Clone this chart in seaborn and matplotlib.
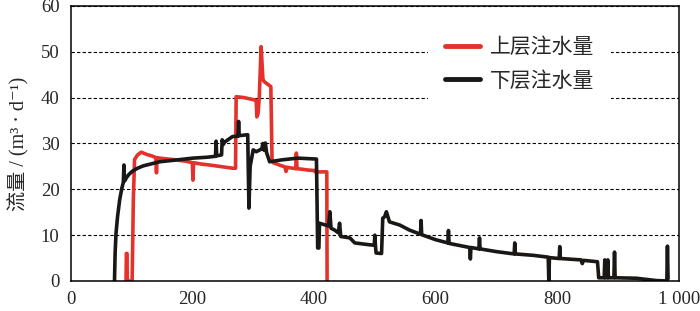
import pandas as pd
import seaborn as sns
import matplotlib.pyplot as plt

# upper layer injection (red)
red_day = [91, 91.5, 92.5, 93, 101, 103, 105, 110, 116, 125, 135, 140, 141, 142,
           146, 160, 174, 190, 200, 201, 202, 215, 228, 250, 266, 271,
           272, 285, 302, 305, 306, 308, 310, 313, 316, 318, 329,
           331, 333, 345, 352, 354, 356, 360, 370, 371, 372, 379, 390, 401, 402, 415, 421, 421.5]
red_val = [0, 6, 6, 0, 0, 18, 26.5, 27.5, 28.1, 27.6, 27.2, 26.9, 23.6, 26.9,
           26.8, 26.6, 26.4, 26.1, 25.8, 22, 25.8, 25.5, 25.3, 24.9, 24.6, 24.6,
           40.2, 40.0, 39.5, 39.3, 35.8, 36.5, 40, 51.1, 44, 43.5, 42.4,
           26.4, 25.8, 25.2, 24.9, 23.9, 24.8, 24.7, 24.5, 27.9, 24.5, 24.4, 24.2, 24.1, 23.8, 23.8, 23.8, 0]

# lower layer injection (black)
black_day = [72, 73, 74.5, 77, 80.5, 84, 86.5, 87.5, 88.5, 91.5, 96, 102, 110, 119,
             146, 174, 201, 225, 238, 239, 240, 248, 249, 251, 253, 266,
             275, 276, 277, 291, 293, 295, 300, 305, 314, 316, 318, 320, 322, 327,
             346, 373, 404, 406, 408, 409, 424, 426, 428, 434, 440, 442, 444,
             459, 467, 491, 499, 500, 501, 502, 511, 513, 516, 519, 524, 541, 557,
             575, 576, 577, 600, 620, 621, 622, 656, 657, 658, 671, 672, 673,
             700, 729, 730, 731, 760, 785, 786, 787, 803, 804, 805, 839, 841, 843,
             866, 868, 877, 878, 879, 882, 883, 884, 893, 894, 895, 930, 962, 980, 981, 982]
black_val = [0, 6, 10.4, 14, 17.7, 20.2, 21.5, 25.3, 21.8, 22.5, 23.3, 24, 24.6, 25.1,
             26, 26.4, 26.8, 27, 27.2, 30.5, 27.3, 27.5, 30.8, 29.8, 30.3, 31.5,
             31.6, 34.8, 31.7, 31.9, 15.9, 25, 28.6, 28.2, 28.8, 30, 28.5, 30.1, 28, 26,
             26.4, 26.8, 26.6, 7.2, 7.2, 12.6, 12, 15.1, 11.5, 11.1, 10.5, 12.6, 9.7,
             9.4, 8.3, 7.9, 7.8, 10, 7.7, 6.1, 6.0, 13.7, 14, 15.1, 12.9, 12.2, 11.1,
             10.2, 13.2, 10.1, 9.0, 8.3, 11, 8.2, 7.3, 4.8, 7.3, 7.0, 9.4, 7.0,
             6.4, 5.9, 8.3, 5.9, 5.6, 5.2, 0, 5.1, 4.9, 7.5, 4.9, 4.6, 3.8, 4.5,
             4.2, 0.7, 0.7, 4.6, 0.7, 0.7, 4.6, 0.7, 0.7, 6.3, 0.7, 0.6, 0.1, 0, 7.6, 0.5]

series_names = ['上层注水量', '下层注水量']
x_ticks = [0, 200, 400, 600, 800, 1000]
x_ticklabels = ['0', '200', '400', '600', '800', '1 000']
y_ticks = [0, 10, 20, 30, 40, 50, 60]

df = pd.concat([
    pd.DataFrame({'day': red_day, 'flow': red_val, 'series': series_names[0]}),
    pd.DataFrame({'day': black_day, 'flow': black_val, 'series': series_names[1]}),
], ignore_index=True)

sns.set_theme(style='white')
plt.rcParams['font.family'] = ['Liberation Serif', 'Noto Sans CJK SC', 'DejaVu Sans']

fig = plt.figure(figsize=(7, 3.11), dpi=100)
ax = fig.add_axes([0.101, 0.0965, 0.869, 0.8845])

sns.lineplot(data=df, x='day', y='flow', hue='series', hue_order=series_names,
             palette={'上层注水量': '#e5312b', '下层注水量': '#1a1816'},
             estimator=None, sort=False, linewidth=2.6, ax=ax)

ax.set_xlim(0, 1000)
ax.set_ylim(0, 60)
ax.set_xticks(x_ticks)
ax.set_xticklabels(x_ticklabels)
ax.set_yticks(y_ticks)
ax.tick_params(axis='x', direction='in', length=4, width=1, color='black',
               labelsize=13.5, pad=7)
ax.tick_params(axis='y', length=0, labelsize=13.5, pad=8)
ax.set_xlabel('')
ax.set_ylabel('流量 / (m³ · d⁻¹)', fontsize=14.5, labelpad=8,
              family=['Liberation Serif', 'Noto Sans CJK SC', 'DejaVu Sans'])

ax.yaxis.grid(True, linestyle=(0, (3, 2)), color='black', linewidth=0.8)
for s in ax.spines.values():
    s.set_color('black')
    s.set_linewidth(1.1)

handles, labels = ax.get_legend_handles_labels()
leg = ax.legend(handles, labels, loc='center', bbox_to_anchor=(0.738, 0.79),
                frameon=True, facecolor='white', edgecolor='none', framealpha=1,
                handlelength=1.7, labelspacing=0.55, borderpad=0.8,
                handletextpad=0.5, prop={'family': 'Noto Sans CJK SC', 'size': 15})
for line in leg.get_lines():
    line.set_linewidth(3.5)

fig.savefig('out.png', dpi=100)
